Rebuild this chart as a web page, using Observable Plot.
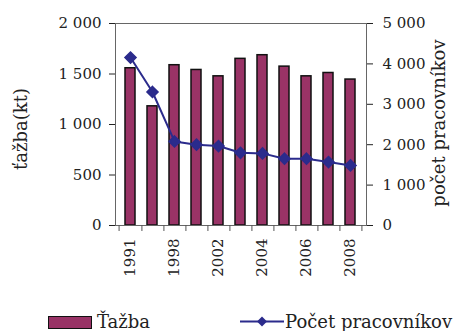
<!DOCTYPE html>
<html><head><meta charset="utf-8">
<script src="https://cdn.jsdelivr.net/npm/d3@7"></script>
<script src="https://cdn.jsdelivr.net/npm/@observablehq/plot@0.6"></script>
<style>
body{margin:0;background:#fff;}
#wrap{position:relative;width:455px;height:331px;overflow:hidden;font-family:"DejaVu Serif",serif;color:#222;background:#fff;}
#chart{position:absolute;left:0;top:0;}
.lg{position:absolute;font-size:18px;line-height:21px;white-space:nowrap;color:#222;}
.ttl{position:absolute;font-size:18px;line-height:21px;white-space:nowrap;color:#222;transform:translate(-50%,-50%) rotate(-90deg);}
</style></head><body>
<div id="wrap"><div id="chart"></div><div id="legend"></div></div>
<script>
const years = ["1991","1995","1998","2000","2002","2003","2004","2005","2006","2007","2008"];
const tazba = [1557, 1180, 1587, 1540, 1477, 1650, 1686, 1573, 1477, 1510, 1445];
const pracovnici = [4157, 3305, 2080, 2000, 1966, 1800, 1785, 1653, 1653, 1570, 1487];
const labeledYears = ["1991","1998","2002","2004","2006","2008"];
const leftTicks = [0, 500, 1000, 1500, 2000];
const rightTicks = [0, 1000, 2000, 3000, 4000, 5000];
const seriesNames = ["Ťažba", "Počet pracovníkov"];
const axisTitles = ["ťažba(kt)", "počet pracovníkov"];

const W = 455, H = 300, ML = 115, MR = 89, MT = 23, MB = 75;
const k = 2000 / 5000;
const fmt = v => d3.format(",")(Math.round(v)).replace(/,/g, " ");
const data = years.map((y, i) => ({year: y, t: tazba[i], p: pracovnici[i]}));
const step = (W - ML - MR) / years.length;
const tickData = 6 * 2000 / (H - MT - MB);
const BAR = "#993366", LINE = "#2b2b8c";

const chart = Plot.plot({
  width: W, height: H, marginLeft: ML, marginRight: MR, marginTop: MT, marginBottom: MB,
  style: {fontFamily: "DejaVu Serif", fontSize: "15px", color: "#222", background: "#fff", overflow: "visible"},
  x: {type: "band", domain: years, paddingInner: 0.53, paddingOuter: 0.265, axis: null},
  y: {domain: [0, 2000], axis: null},
  marks: [
    Plot.barY(data, {x: "year", y: "t", fill: BAR, stroke: "#111", strokeWidth: 1.5}),
    Plot.frame({stroke: "#666"}),
    Plot.axisY({anchor: "left", ticks: leftTicks, tickFormat: fmt, tickSize: 6, tickPadding: 8, label: null}),
    Plot.axisY({anchor: "right", ticks: rightTicks.map(v => v * k), tickFormat: v => fmt(v / k), tickSize: 6, tickPadding: 10, label: null}),
    Plot.ruleX(years, {x: d => d, y1: 0, y2: -tickData, dx: step / 2, stroke: "#555"}),
    Plot.ruleX(years.slice(0, 1), {x: d => d, y1: 0, y2: -tickData, dx: -step / 2, stroke: "#555"}),
    Plot.axisX({ticks: labeledYears, tickSize: 0, tickPadding: 13, tickRotate: -90, label: null}),
    Plot.line(data, {x: "year", y: d => d.p * k, stroke: LINE, strokeWidth: 2}),
    Plot.dot(data, {x: "year", y: d => d.p * k, symbol: "diamond2", r: 5, fill: LINE, stroke: LINE})
  ]
});
document.getElementById("chart").appendChild(chart);

const lg = document.getElementById("legend");
lg.innerHTML = `
<div class="ttl" style="left:20px;top:129px;">${axisTitles[0]}</div>
<div class="ttl" style="left:438px;top:123px;">${axisTitles[1]}</div>
<div style="position:absolute;left:48px;top:316px;width:42px;height:11px;background:${BAR};border:1.5px solid #111;"></div>
<div class="lg" style="left:97px;top:311px;">${seriesNames[0]}</div>
<svg style="position:absolute;left:240px;top:315px;" width="44" height="13"><line x1="0" x2="44" y1="6.5" y2="6.5" stroke="${LINE}" stroke-width="2"/><polygon points="22,1.5 27,6.5 22,11.5 17,6.5" fill="${LINE}"/></svg>
<div class="lg" style="left:285px;top:311px;">${seriesNames[1]}</div>`;
</script>
</body></html>
